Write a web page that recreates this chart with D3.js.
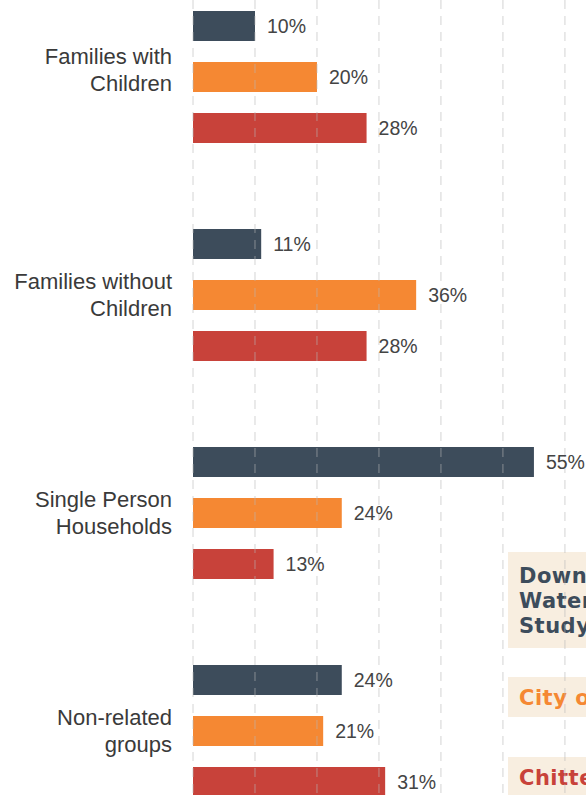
<!doctype html>
<html lang="en">
<head>
    <meta charset="utf-8"/>
    <title>Household types</title>
    <style>
        html, body { margin: 0; padding: 0; background: #fff; overflow: hidden; }
    </style>
</head>
<body>
    <svg id="chart"></svg>
    <script src="https://d3js.org/d3.v7.min.js"></script>
    <script>
        // data
        const groups = ["Families with Children", "Families without Children", "Single Person Households", "Non-related groups"];
        const groupLines = [["Families with", "Children"], ["Families without", "Children"], ["Single Person", "Households"], ["Non-related", "groups"]];
        const seriesNames = ["Downtown Waterfront Study Area", "City of Burlington", "Chittenden County"];
        const downtown = [10, 11, 55, 24];
        const city = [20, 36, 24, 21];
        const county = [28, 28, 13, 31];
        const gridTicks = [0, 10, 20, 30, 40, 50, 60];
        const legendLines = [["Downtown", "Waterfront", "Study Area"], ["City of Burlington"], ["Chittenden County"]];

        const colors = ["#3d4c5b", "#f58833", "#c8423a"];
        const width = 586, height = 795;

        const svg = d3.select("#chart")
            .attr("width", width)
            .attr("height", height)
            .style("display", "block");

        const x = d3.scaleLinear().domain([0, 63.4]).range([193, 586]);

        const y0 = d3.scaleBand()
            .domain(groups)
            .range([11, 11 + 4 * 218])
            .paddingInner(0)
            .paddingOuter(0);

        const y1 = d3.scaleBand()
            .domain(seriesNames)
            .range([0, 132])
            .paddingInner(0.412)
            .paddingOuter(0);

        const values = [downtown, city, county];
        const rows = [];
        groups.forEach((g, i) => {
            seriesNames.forEach((s, j) => {
                rows.push({group: g, series: s, si: j, value: values[j][i]});
            });
        });

        // bars
        svg.append("g")
            .selectAll("rect")
            .data(rows)
            .join("rect")
                .attr("x", x(0))
                .attr("y", d => y0(d.group) + y1(d.series))
                .attr("width", d => x(d.value) - x(0))
                .attr("height", y1.bandwidth())
                .attr("fill", d => colors[d.si]);

        // legend boxes (cut off at right edge)
        const legendTops = [552, 677, 757];
        const legendHeights = [96, 40, 40];
        const legend = svg.append("g");
        legend.selectAll("rect")
            .data(seriesNames)
            .join("rect")
                .attr("x", 508)
                .attr("y", (d, i) => legendTops[i])
                .attr("width", 120)
                .attr("height", (d, i) => legendHeights[i])
                .attr("fill", "#f8eee0");

        // gridlines, drawn over bars faintly
        svg.append("g")
            .selectAll("line")
            .data(gridTicks)
            .join("line")
                .attr("x1", d => x(d))
                .attr("x2", d => x(d))
                .attr("y1", 0)
                .attr("y2", height)
                .attr("stroke", "#b8b8b8")
                .attr("stroke-opacity", 0.6)
                .attr("stroke-width", 1)
                .attr("stroke-dasharray", "9,7");

        // legend text
        legend.selectAll("text")
            .data(legendLines)
            .join("text")
                .attr("x", 519)
                .attr("font-family", "DejaVu Sans, sans-serif")
                .attr("font-weight", "bold")
                .attr("font-size", 21)
                .attr("letter-spacing", 0.5)
                .attr("fill", (d, i) => colors[i])
                .each(function (d, i) {
                    const t = d3.select(this);
                    const cy = legendTops[i] + legendHeights[i] / 2;
                    const lh = 25;
                    d.forEach((line, k) => {
                        t.append("tspan")
                            .attr("x", 519)
                            .attr("y", cy + (k - (d.length - 1) / 2) * lh)
                            .attr("dy", "0.36em")
                            .text(line);
                    });
                });

        // value labels
        svg.append("g")
            .selectAll("text")
            .data(rows)
            .join("text")
                .attr("x", d => x(d.value) + 12)
                .attr("y", d => y0(d.group) + y1(d.series) + y1.bandwidth() / 2)
                .attr("dy", "0.35em")
                .attr("font-family", "Liberation Sans, Arial, sans-serif")
                .attr("font-size", 19.5)
                .attr("fill", "#444")
                .text(d => d.value + "%");

        // category labels
        svg.append("g")
            .selectAll("text")
            .data(groups)
            .join("text")
                .attr("text-anchor", "end")
                .attr("font-family", "Liberation Sans, Arial, sans-serif")
                .attr("font-size", 22)
                .attr("fill", "#3a3a3a")
                .each(function (g, i) {
                    const t = d3.select(this);
                    const cy = y0(g) + 132 / 2 + (i === 0 ? -7 : 0);
                    groupLines[i].forEach((line, k) => {
                        t.append("tspan")
                            .attr("x", 172)
                            .attr("y", cy + (k - 0.5) * 27.5)
                            .attr("dy", "0.35em")
                            .text(line);
                    });
                });
    </script>
</body>
</html>
